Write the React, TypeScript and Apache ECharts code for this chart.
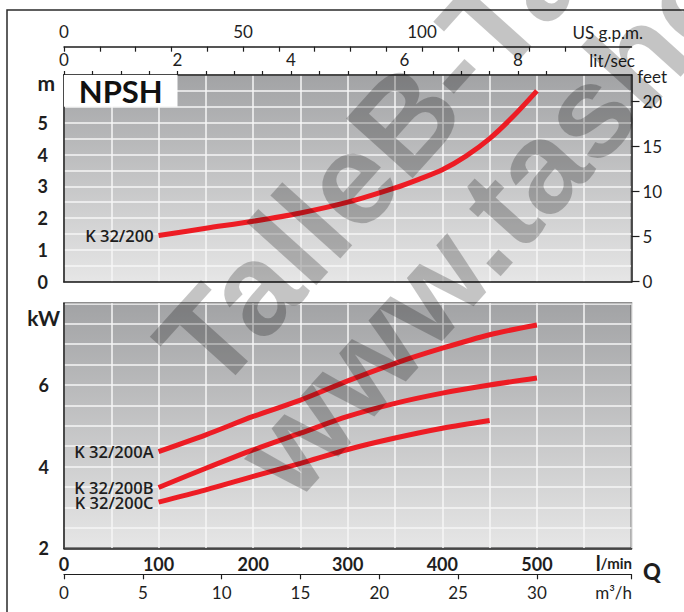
import React, { useEffect, useRef } from "react";
import * as echarts from "echarts";

// ---- data ----
const npshFlow = [100, 150, 200, 250, 300, 350, 375, 400, 425, 450, 475, 500];
const npshM = [1.45, 1.68, 1.9, 2.16, 2.5, 2.95, 3.22, 3.52, 3.95, 4.5, 5.2, 6.0];

const powerFlow = [100, 150, 200, 250, 300, 350, 400, 450, 500];
const powerA = [4.37, 4.78, 5.23, 5.63, 6.1, 6.53, 6.9, 7.23, 7.47];
const powerB = [3.49, 3.96, 4.41, 4.82, 5.23, 5.55, 5.8, 6.0, 6.17];
const powerC = [3.13, 3.43, 3.76, 4.08, 4.42, 4.7, 4.94, 5.13];

const npshName = "K 32/200";
const powerNames = ["K 32/200A", "K 32/200B", "K 32/200C"];

const lpmLabels = [0, 100, 200, 300, 400, 500];
const m3hLabels = [0, 5, 10, 15, 20, 25, 30];
const m3hTicks = [0, 5, 10, 15, 20, 25, 30, 36];
const lpsLabels = [0, 2, 4, 6, 8];
const lpsTicks = [0, 0.5, 1, 1.5, 2, 2.5, 3, 3.5, 4, 4.5, 5, 5.5, 6, 6.5, 7, 7.5, 8, 8.5];
const gpmLabels = [0, 50, 100];
const gpmTicks = [0, 10, 20, 30, 40, 50, 60, 70, 80, 90, 100, 110, 120, 130, 140];
const mLabels = [0, 1, 2, 3, 4, 5];
const feetLabels = [0, 5, 10, 15, 20];
const kwLabels = [2, 4, 6];

const FONT = "Lato";
const DARK = "#1e1e1e";
const RED = "#ed1c24";

export default function App() {
  const ref = useRef<HTMLDivElement>(null);
  useEffect(() => {
    if (!ref.current) return;
    const chart = echarts.init(ref.current, undefined, { renderer: "svg" });
    const bg = () =>
      new echarts.graphic.LinearGradient(0, 0, 0, 1, [
        { offset: 0, color: "#a2a3a5" },
        { offset: 1, color: "#e6e6e6" },
      ]);
    const split = { show: true, lineStyle: { color: "#f6f6f6", width: 1.5 } };
    const border = { show: true, onZero: false, lineStyle: { color: DARK, width: 1.5 } };
    const zip = (xs: number[], ys: number[]) => ys.map((y, i) => [xs[i], y]);
    const startLabel = (x: number, y: number, name: string) => ({
      symbol: "circle",
      symbolSize: 2,
      itemStyle: { color: "transparent" },
      data: [
        {
          coord: [x, y],
          label: {
            show: true,
            position: "left",
            distance: 4,
            formatter: name,
            fontFamily: "Open Sans",
            fontSize: 16.5,
            lineHeight: 14,
            fontWeight: 600,
            color: DARK,
          },
        },
      ],
    });
    const lineSeries = (
      name: string,
      xs: number[],
      ys: number[],
      xi: number,
      yi: number,
      extra: any = {}
    ) => ({
      type: "line",
      name,
      xAxisIndex: xi,
      yAxisIndex: yi,
      data: zip(xs, ys),
      smooth: 0.3,
      showSymbol: false,
      symbol: "none",
      lineStyle: { color: RED, width: 5, cap: "butt" },
      markPoint: startLabel(xs[0], ys[0], name),
      z: 5,
      ...extra,
    });

    const option: any = {
      animation: false,
      backgroundColor: "#ffffff",
      textStyle: { fontFamily: FONT },
      grid: [
        {
          left: 64,
          top: 75,
          width: 567.5,
          height: 206.7,
          show: true,
          backgroundColor: bg(),
          borderColor: DARK,
          borderWidth: 1.5,
        },
        {
          left: 64,
          top: 303.3,
          width: 567.5,
          height: 245,
          show: true,
          backgroundColor: bg(),
          borderColor: DARK,
          borderWidth: 1.5,
        },
      ],
      xAxis: [
        {
          gridIndex: 0,
          type: "value",
          position: "bottom",
          min: 0,
          max: 600,
          interval: 50,
          axisLine: border,
          axisTick: { show: false },
          axisLabel: { show: false },
          splitLine: split,
        },
        {
          gridIndex: 0,
          type: "value",
          position: "top",
          min: 0,
          max: 10,
          interval: 0.5,
          axisLine: border,
          axisTick: {
            show: true,
            inside: false,
            length: 4,
            customValues: lpsTicks,
            lineStyle: { color: DARK, width: 1.2 },
          },
          axisLabel: {
            show: true,
            customValues: lpsLabels,
            margin: 7,
            fontFamily: FONT,
            fontSize: 17,
            color: DARK,
          },
          splitLine: { show: false },
        },
        {
          gridIndex: 0,
          type: "value",
          position: "top",
          offset: 28.3,
          min: 0,
          max: 600 / 3.78541,
          interval: 10,
          axisLine: border,
          axisTick: {
            show: true,
            inside: true,
            length: 5,
            customValues: gpmTicks,
            lineStyle: { color: DARK, width: 1.2 },
          },
          axisLabel: {
            show: true,
            customValues: gpmLabels,
            margin: 7,
            fontFamily: FONT,
            fontSize: 17,
            color: DARK,
          },
          splitLine: { show: false },
        },
        {
          gridIndex: 1,
          type: "value",
          position: "bottom",
          min: 0,
          max: 600,
          interval: 50,
          axisLine: border,
          axisTick: { show: false },
          axisLabel: {
            show: true,
            customValues: lpmLabels,
            margin: 7,
            fontFamily: FONT,
            fontSize: 18,
            fontWeight: "bold",
            color: DARK,
          },
          splitLine: split,
        },
        {
          gridIndex: 1,
          type: "value",
          position: "bottom",
          offset: 26,
          min: 0,
          max: 36,
          interval: 5,
          axisLine: { show: true, onZero: false, lineStyle: { color: DARK, width: 1.2 } },
          axisTick: {
            show: true,
            inside: false,
            length: 5,
            customValues: m3hTicks,
            lineStyle: { color: DARK, width: 1.2 },
          },
          axisLabel: {
            show: true,
            customValues: m3hLabels,
            margin: 10,
            fontFamily: FONT,
            fontSize: 17,
            color: DARK,
          },
          splitLine: { show: false },
        },
      ],
      yAxis: [
        {
          gridIndex: 0,
          type: "value",
          position: "left",
          min: 0,
          max: 6.5,
          interval: 0.5,
          axisLine: border,
          axisTick: { show: false },
          axisLabel: {
            show: true,
            customValues: mLabels,
            margin: 16,
            fontFamily: FONT,
            fontSize: 18,
            fontWeight: "bold",
            color: DARK,
          },
          splitLine: split,
        },
        {
          gridIndex: 0,
          type: "value",
          position: "right",
          min: 0,
          max: 22.9,
          interval: 5,
          axisLine: border,
          axisTick: {
            show: true,
            inside: false,
            length: 8,
            customValues: feetLabels,
            lineStyle: { color: DARK, width: 1.2 },
          },
          axisLabel: {
            show: true,
            customValues: feetLabels,
            margin: 11,
            fontFamily: FONT,
            fontSize: 17,
            color: DARK,
          },
          splitLine: { show: false },
        },
        {
          gridIndex: 1,
          type: "value",
          position: "left",
          min: 2,
          max: 8,
          interval: 0.5,
          axisLine: border,
          axisTick: { show: false },
          axisLabel: {
            show: true,
            customValues: kwLabels,
            margin: 15,
            fontFamily: FONT,
            fontSize: 18,
            fontWeight: "bold",
            color: DARK,
          },
          splitLine: split,
        },
      ],
      series: [
        lineSeries(npshName, npshFlow, npshM, 0, 0, {
          markArea: {
            silent: true,
            itemStyle: { color: "#ffffff", opacity: 1 },
            label: {
              show: true,
              position: "inside",
              formatter: "NPSH",
              fontFamily: FONT,
              fontSize: 31,
              fontWeight: "bold",
              color: "#111",
            },
            data: [[{ xAxis: 0, yAxis: 5.5 }, { xAxis: 120, yAxis: 6.5 }]],
          },
        }),
        lineSeries(powerNames[0], powerFlow, powerA, 3, 2),
        lineSeries(powerNames[1], powerFlow, powerB, 3, 2),
        lineSeries(powerNames[2], powerFlow, powerC, 3, 2),
      ],
      graphic: [
        {
          type: "rect",
          shape: { x: 7, y: 10, width: 720, height: 640 },
          style: { fill: "none", stroke: "#2a2a2a", lineWidth: 1.5 },
          z: -10,
          silent: true,
        },
        {
          type: "text",
          x: 55,
          y: 82,
          style: { text: "m", fontFamily: FONT, fontSize: 21, fontWeight: "bold", fill: DARK, align: "right", verticalAlign: "middle" },
        },
        {
          type: "text",
          x: 60,
          y: 317,
          style: { text: "kW", fontFamily: FONT, fontSize: 21, fontWeight: "bold", fill: DARK, align: "right", verticalAlign: "middle" },
        },
        {
          type: "text",
          x: 667,
          y: 76,
          style: { text: "feet", fontFamily: FONT, fontSize: 17, fill: DARK, align: "right", verticalAlign: "middle" },
        },
        {
          type: "text",
          x: 635,
          y: 60,
          style: { text: "lit/sec", fontFamily: FONT, fontSize: 17, fill: DARK, align: "right", verticalAlign: "middle" },
        },
        {
          type: "text",
          x: 643,
          y: 32,
          style: { text: "US g.p.m.", fontFamily: FONT, fontSize: 17, fill: DARK, align: "right", verticalAlign: "middle" },
        },
        {
          type: "text",
          x: 632,
          y: 563,
          style: {
            text: "{a|l}{b|/min}",
            align: "right",
            verticalAlign: "middle",
            rich: {
              a: { fontFamily: FONT, fontSize: 20, fontWeight: "bold", fill: DARK, color: DARK },
              b: { fontFamily: FONT, fontSize: 15, fontWeight: "bold", fill: DARK, color: DARK },
            },
          },
        },
        {
          type: "text",
          x: 652,
          y: 571,
          style: { text: "Q", fontFamily: FONT, fontSize: 22, fontWeight: 900, fill: DARK, align: "center", verticalAlign: "middle" },
        },
        {
          type: "text",
          x: 632,
          y: 592,
          style: { text: "m³/h", fontFamily: FONT, fontSize: 17, fill: DARK, align: "right", verticalAlign: "middle" },
        },
        {
          type: "text",
          x: 230,
          y: 411,
          rotation: (48 * Math.PI) / 180,
          z: 100,
          silent: true,
          style: {
            text: "TalleB-Tasheh",
            fontFamily: "Liberation Sans",
            fontSize: 130,
            fontWeight: "bold",
            fill: "rgba(0,0,0,0.23)",
            align: "left",
            verticalAlign: "bottom",
          },
        },
        {
          type: "text",
          x: 310,
          y: 518,
          rotation: (48 * Math.PI) / 180,
          z: 100,
          silent: true,
          style: {
            text: "www.tasheh.com",
            fontFamily: "Liberation Sans",
            fontSize: 130,
            fontWeight: "bold",
            fill: "rgba(0,0,0,0.23)",
            align: "left",
            verticalAlign: "bottom",
          },
        },
      ],
    };
    chart.setOption(option);
    return () => chart.dispose();
  }, []);
  return (
    <div
      ref={ref}
      style={{ position: "absolute", left: 0, top: 0, width: 684, height: 612 }}
    />
  );
}
